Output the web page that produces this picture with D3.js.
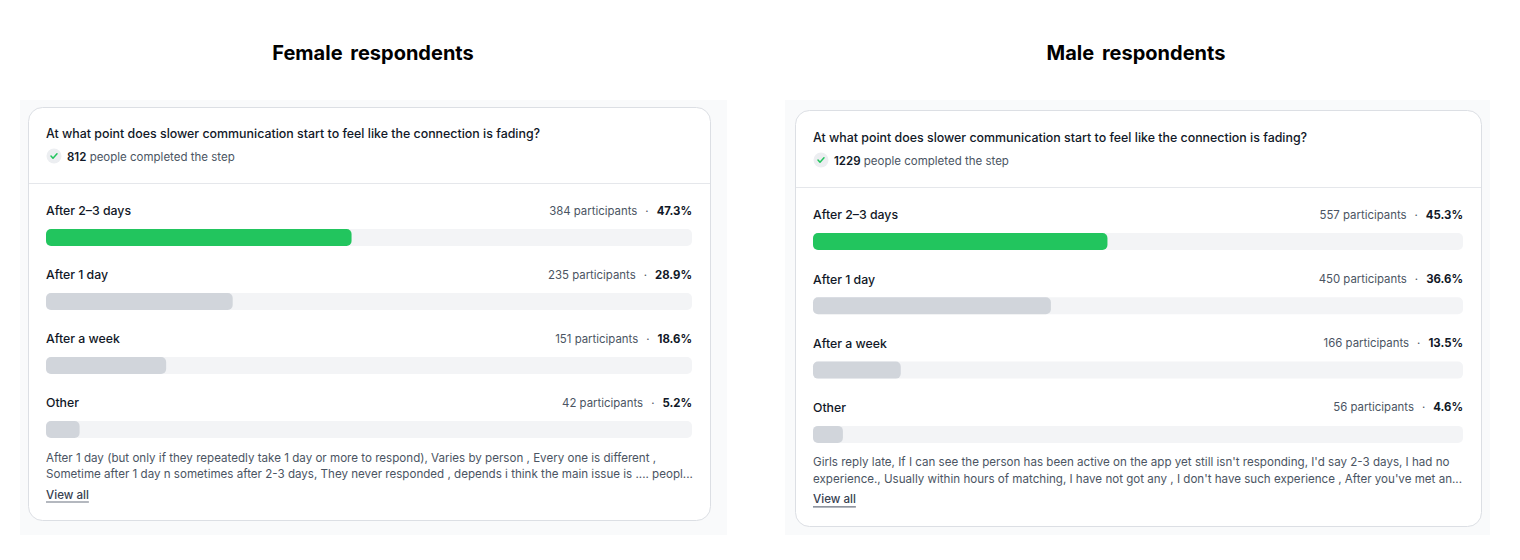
<!DOCTYPE html>
<html>
<head>
<meta charset="utf-8">
<script src="https://cdn.jsdelivr.net/npm/d3@7"></script>
<style>
  html, body { margin: 0; padding: 0; background: #ffffff; }
  svg { display: block; font-family: Inter, "Noto Sans", sans-serif; }
</style>
</head>
<body>
<div class="chart"></div>
<script>
// survey data
var question = "At what point does slower communication start to feel like the connection is fading?";
var categories = ["After 2\u20133 days", "After 1 day", "After a week", "Other"];

var femaleCounts = [384, 235, 151, 42];
var femalePct = [47.3, 28.9, 18.6, 5.2];
var femaleTotal = 812;
var femaleOther = [
  "After 1 day (but only if they repeatedly take 1 day or more to respond), Varies by person , Every one is different ,",
  "Sometime after 1 day n sometimes after 2-3 days, They never responded , depends i think the main issue is .... peopl..."
];

var maleCounts = [557, 450, 166, 56];
var malePct = [45.3, 36.6, 13.5, 4.6];
var maleTotal = 1229;
var maleOther = [
  "Girls reply late, If I can see the person has been active on the app yet still isn't responding, I'd say 2-3 days, I had no",
  "experience., Usually within hours of matching, I have not got any , I don't have such experience , After you've met an..."
];

var svgWidth = 1520;
var svgHeight = 560;

var svg = d3.select(".chart")
  .append("svg")
  .attr("width", svgWidth)
  .attr("height", svgHeight);

// one panel per respondent group
var panels = [
  {
    title: "Female respondents", titleX: 373,
    counts: femaleCounts, pct: femalePct, total: femaleTotal, other: femaleOther,
    bg: [20, 100, 707, 435],
    card: [28, 107, 682, 413],
    x0: 46, x1: 692, top: 133, step: 64
  },
  {
    title: "Male respondents", titleX: 1136,
    counts: maleCounts, pct: malePct, total: maleTotal, other: maleOther,
    bg: [785, 100, 705, 435],
    card: [795, 110, 686, 416],
    x0: 813, x1: 1463, top: 137, step: 64.3
  }
];

panels.forEach(function(p) {
  var g = svg.append("g");

  g.append("text")
    .attr("x", p.titleX)
    .attr("y", 53)
    .attr("dy", "0.35em")
    .attr("text-anchor", "middle")
    .attr("font-size", 20)
    .attr("font-weight", 700)
    .attr("word-spacing", 3)
    .attr("fill", "#000")
    .text(p.title);

  g.append("rect")
    .attr("x", p.bg[0]).attr("y", p.bg[1])
    .attr("width", p.bg[2]).attr("height", p.bg[3])
    .attr("fill", "#f9fafb");

  g.append("rect")
    .attr("x", p.card[0] + 0.5).attr("y", p.card[1] + 0.5)
    .attr("width", p.card[2]).attr("height", p.card[3])
    .attr("rx", 14)
    .attr("fill", "#fff")
    .attr("stroke", "#dcdfe4");

  // header
  g.append("text")
    .attr("x", p.x0).attr("y", p.top + 0.5)
    .attr("dy", "0.35em")
    .attr("font-size", 12.4)
    .attr("font-weight", 550)
    .attr("fill", "#111827")
    .text(question);

  var cy = p.top + 23;
  g.append("circle")
    .attr("cx", p.x0 + 8).attr("cy", cy).attr("r", 7.5)
    .attr("fill", "#eceef1");
  g.append("path")
    .attr("d", "M" + (p.x0 + 5) + "," + (cy) + " l2,2.2 l4,-4.4")
    .attr("fill", "none")
    .attr("stroke", "#22c55e")
    .attr("stroke-width", 1.5)
    .attr("stroke-linecap", "round")
    .attr("stroke-linejoin", "round");

  var done = g.append("text")
    .attr("x", p.x0 + 21).attr("y", cy + 0.5)
    .attr("dy", "0.35em")
    .attr("font-size", 11.5)
    .attr("fill", "#4b5563");
  done.append("tspan").attr("font-weight", 600).attr("fill", "#111827").text(p.total);
  done.append("tspan").text(" people completed the step");

  g.append("line")
    .attr("x1", p.card[0] + 1).attr("x2", p.card[0] + p.card[2])
    .attr("y1", p.top + 50.5).attr("y2", p.top + 50.5)
    .attr("stroke", "#e5e7eb");

  // bars
  var xScale = d3.scaleLinear()
    .domain([0, 100])
    .range([0, p.x1 - p.x0]);

  var yScale = d3.scaleLinear()
    .domain([0, 1])
    .range([p.top + 77, p.top + 77 + p.step]);

  var rows = g.selectAll(".row")
    .data(categories)
    .enter()
    .append("g")
    .attr("class", "row")
    .attr("transform", (d, i) => `translate(0, ${yScale(i)})`);

  rows.append("text")
    .attr("x", p.x0)
    .attr("y", 1)
    .attr("dy", "0.35em")
    .attr("font-size", 12.3)
    .attr("font-weight", 550)
    .attr("fill", "#111827")
    .text(d => d);

  var stat = rows.append("text")
    .attr("x", p.x1)
    .attr("y", 0.5)
    .attr("dy", "0.35em")
    .attr("text-anchor", "end")
    .attr("font-size", 11.4)
    .attr("fill", "#4b5563");
  stat.append("tspan").text((d, i) => p.counts[i] + " participants");
  stat.append("tspan").attr("dx", 8).text("\u00b7");
  stat.append("tspan").attr("dx", 8).attr("font-weight", 700).attr("fill", "#111827")
    .text((d, i) => p.pct[i].toFixed(1) + "%");

  rows.append("rect")
    .attr("x", p.x0).attr("y", 19)
    .attr("width", xScale(100)).attr("height", 17)
    .attr("rx", 5)
    .attr("fill", "#f3f4f6");

  rows.append("rect")
    .attr("x", p.x0).attr("y", 19)
    .attr("width", (d, i) => xScale(p.pct[i])).attr("height", 17)
    .attr("rx", 5)
    .attr("fill", (d, i) => i === 0 ? "#22c55e" : "#d1d5db");

  // free text answers for "Other"
  var otherY = yScale(3) + 55.5;
  g.selectAll(".other")
    .data(p.other)
    .enter()
    .append("text")
    .attr("class", "other")
    .attr("x", p.x0)
    .attr("y", (d, i) => otherY + i * 16.5)
    .attr("dy", "0.35em")
    .attr("font-size", 11.6)
    .attr("fill", "#4b5563")
    .text(d => d);

  var view = g.append("text")
    .attr("x", p.x0)
    .attr("y", otherY + 37)
    .attr("dy", "0.35em")
    .attr("font-size", 11.6)
    .attr("font-weight", 500)
    .attr("fill", "#374151")
    .text("View all");
  var vw = view.node().getComputedTextLength();
  g.append("line")
    .attr("x1", p.x0).attr("x2", p.x0 + vw)
    .attr("y1", otherY + 44.5).attr("y2", otherY + 44.5)
    .attr("stroke", "#6b7280")
    .attr("stroke-width", 1.2);
});
</script>
</body>
</html>
